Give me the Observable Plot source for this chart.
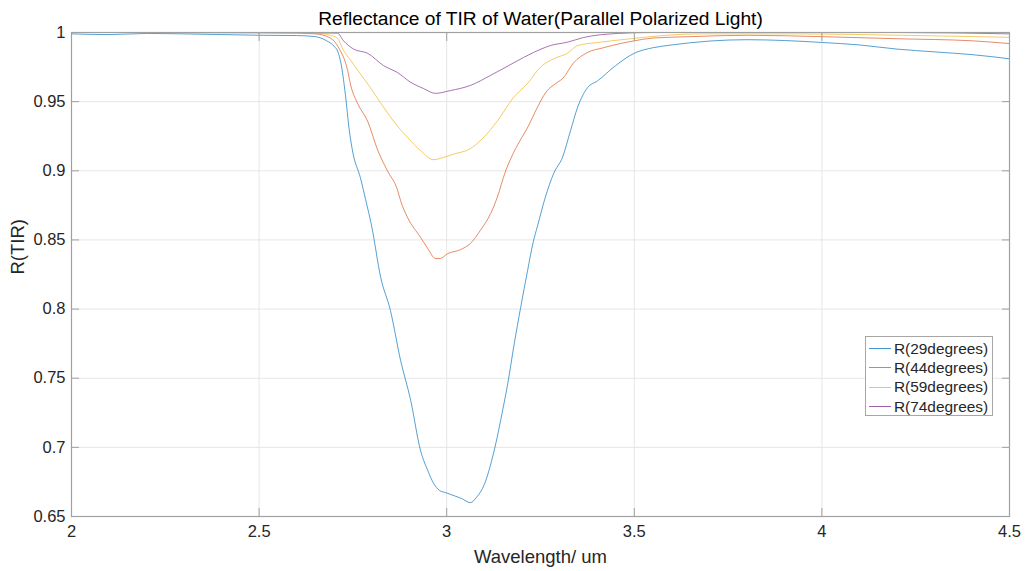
<!DOCTYPE html>
<html>
<head>
<meta charset="utf-8">
<script src="https://cdn.jsdelivr.net/npm/d3@7"></script>
<script src="https://cdn.jsdelivr.net/npm/@observablehq/plot@0.6"></script>
<style>
  html, body { margin: 0; padding: 0; background: #fff; }
  #wrap { position: relative; width: 1027px; height: 571px; font-family: "Liberation Sans", Arial, sans-serif; }
  #legend { position: absolute; left: 865px; top: 336px; width: 128px; height: 80px; box-sizing: border-box; background: #fff; border: 1px solid #a6a6a6; padding: 2px 0 0 0; font-size: 15.4px; color: #262626; }
  #legend .row { display: flex; align-items: center; height: 19.3px; white-space: nowrap; }
  #legend .sw { width: 22px; height: 0; margin: 0 3px 0 3px; border-top: 1px solid; opacity: 0.75; }
</style>
</head>
<body>
<div id="wrap"></div>
<script>
// ---- data ----
const title = "Reflectance of TIR of Water(Parallel Polarized Light)";
const xLabel = "Wavelength/ um";
const yLabel = "R(TIR)";
const seriesNames = ["R(29degrees)", "R(44degrees)", "R(59degrees)", "R(74degrees)"];
const seriesColors = ["#0072BD", "#D95319", "#EDB120", "#7E2F8E"];
const xTicks = [2, 2.5, 3, 3.5, 4, 4.5];
const yTicks = [0.65, 0.7, 0.75, 0.8, 0.85, 0.9, 0.95, 1];

const wl29 = [2.0,2.1,2.2,2.3,2.4,2.5,2.6,2.65,2.68,2.7,2.71,2.72,2.73,2.74,2.75,2.77,2.784,2.80,2.824,2.85,2.877,2.904,2.93,2.95,2.965,2.98,3.0,3.02,3.04,3.063,3.08,3.1,3.125,3.15,3.162,3.18,3.197,3.215,3.231,3.242,3.263,3.285,3.309,3.33,3.349,3.375,3.402,3.45,3.5,3.55,3.6,3.7,3.8,3.9,4.0,4.1,4.2,4.3,4.4,4.5];
const r29  = [0.999,0.9985,0.9993,0.999,0.9985,0.998,0.9978,0.997,0.994,0.99,0.986,0.975,0.955,0.93,0.913,0.895,0.879,0.86,0.823,0.799,0.763,0.734,0.698,0.683,0.674,0.669,0.667,0.665,0.663,0.660,0.664,0.673,0.696,0.728,0.745,0.775,0.801,0.827,0.849,0.86,0.881,0.898,0.91,0.929,0.946,0.960,0.965,0.976,0.985,0.989,0.991,0.9938,0.9948,0.9942,0.9928,0.991,0.988,0.986,0.984,0.981];

const wl44 = [2.0,2.2,2.4,2.6,2.65,2.69,2.712,2.736,2.744,2.762,2.789,2.816,2.842,2.869,2.877,2.896,2.93,2.949,2.97,2.983,3.002,3.037,3.063,3.09,3.117,3.14,3.151,3.178,3.2,3.215,3.242,3.265,3.29,3.31,3.338,3.375,3.418,3.5,3.55,3.65,3.8,4.0,4.2,4.4,4.5];
const r44  = [1.0,1.0,0.9998,0.9995,0.999,0.996,0.989,0.9725,0.962,0.949,0.936,0.915,0.900,0.886,0.8785,0.866,0.852,0.844,0.8366,0.8366,0.840,0.843,0.8474,0.857,0.869,0.885,0.895,0.913,0.924,0.931,0.946,0.957,0.963,0.967,0.978,0.9855,0.989,0.994,0.996,0.997,0.998,0.997,0.9955,0.994,0.992];

const wl59 = [2.0,2.5,2.65,2.69,2.709,2.725,2.744,2.77,2.797,2.824,2.858,2.896,2.93,2.965,2.983,3.018,3.063,3.098,3.135,3.178,3.215,3.25,3.285,3.322,3.349,3.41,3.498,3.543,3.676,3.943,4.209,4.5];
const r59  = [1.0,1.0,0.9995,0.998,0.9957,0.987,0.980,0.970,0.960,0.949,0.936,0.924,0.9147,0.908,0.909,0.912,0.916,0.924,0.936,0.953,0.963,0.975,0.981,0.985,0.9906,0.993,0.9957,0.997,0.999,0.999,0.998,0.9965];

const wl74 = [2.0,2.6,2.709,2.725,2.752,2.789,2.832,2.869,2.904,2.938,2.97,3.01,3.063,3.117,3.178,3.231,3.277,3.322,3.365,3.455,3.543,4.209,4.5];
const r74  = [1.0,1.0,0.9995,0.994,0.988,0.985,0.976,0.971,0.964,0.9595,0.956,0.958,0.9617,0.969,0.978,0.9855,0.9906,0.993,0.9964,0.9993,1.0,1.0,0.999];

// ---- build table ----
const wls = [wl29, wl44, wl59, wl74];
const rs = [r29, r44, r59, r74];
const table = [];
seriesNames.forEach((name, i) => {
  wls[i].forEach((w, j) => table.push({series: name, wl: w, r: rs[i][j]}));
});

const axisColor = "#a0a0a0";
const textColor = "#262626";

const chart = Plot.plot({
  width: 1027,
  height: 571,
  marginLeft: 71,
  marginRight: 18,
  marginTop: 32,
  marginBottom: 55,
  style: {fontFamily: "'Liberation Sans', Arial, sans-serif", fontSize: "16px", color: textColor, background: "#fff"},
  x: {domain: [2, 4.5], ticks: xTicks},
  y: {domain: [0.65, 1], ticks: yTicks},
  color: {domain: seriesNames, range: seriesColors},
  marks: [
    Plot.gridX(xTicks, {stroke: "#e6e6e6", strokeOpacity: 1, strokeWidth: 1}),
    Plot.gridY(yTicks, {stroke: "#e6e6e6", strokeOpacity: 1, strokeWidth: 1}),
    Plot.lineY(table, {x: "wl", y: "r", z: "series", stroke: "series", strokeWidth: 0.9, strokeOpacity: 0.75, curve: "monotone-x"}),
    Plot.frame({stroke: axisColor, strokeWidth: 1.2}),
    // inward ticks
    Plot.axisX(xTicks, {anchor: "bottom", tickSize: -8, text: null, stroke: axisColor, label: null}),
    Plot.axisX(xTicks, {anchor: "top", tickSize: -8, text: null, stroke: axisColor, label: null}),
    Plot.axisY(yTicks, {anchor: "left", tickSize: -8, text: null, stroke: axisColor, label: null}),
    Plot.axisY(yTicks, {anchor: "right", tickSize: -8, text: null, stroke: axisColor, label: null}),
    // tick labels
    Plot.axisX(xTicks, {anchor: "bottom", tickSize: 0, tickPadding: 9, fontSize: 16.5, fill: textColor, tickFormat: d => String(d), label: null}),
    Plot.axisY(yTicks, {anchor: "left", tickSize: 0, tickPadding: 6, fontSize: 16.5, fill: textColor, tickFormat: d => String(d), label: null}),
    // axis labels and title
    Plot.text([xLabel], {frameAnchor: "bottom", lineAnchor: "middle", dy: 41, fontSize: 18.5, fill: textColor}),
    Plot.text([yLabel], {frameAnchor: "left", lineAnchor: "middle", dx: -53, rotate: -90, fontSize: 18.5, fill: textColor}),
    Plot.text([title], {frameAnchor: "top", lineAnchor: "middle", dy: -14, fontSize: 19.2, fill: "#000"})
  ]
});
const wrap = document.getElementById("wrap");
wrap.appendChild(chart);

// legend
const lg = document.createElement("div");
lg.id = "legend";
seriesNames.forEach((n, i) => {
  const row = document.createElement("div");
  row.className = "row";
  const sw = document.createElement("span");
  sw.className = "sw";
  sw.style.borderTopColor = seriesColors[i];
  const t = document.createElement("span");
  t.textContent = n;
  row.appendChild(sw); row.appendChild(t);
  lg.appendChild(row);
});
wrap.appendChild(lg);
</script>
</body>
</html>
